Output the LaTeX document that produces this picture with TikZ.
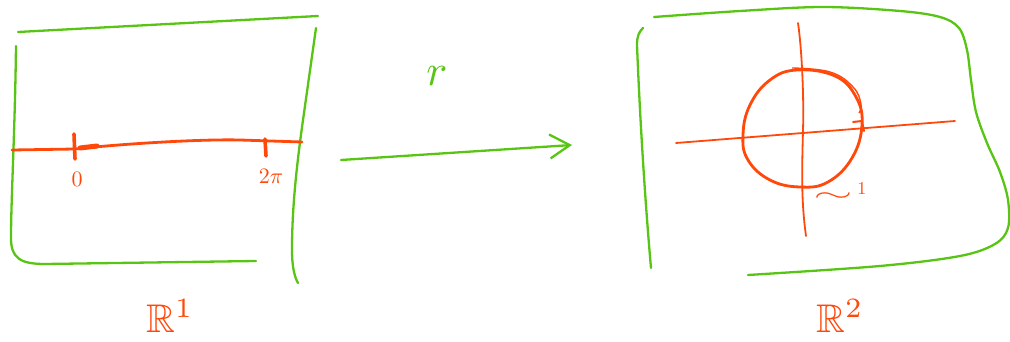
\documentclass[tikz,border=0pt]{standalone}
\usepackage{amssymb}
\usetikzlibrary{arrows.meta}
\definecolor{pgreen}{RGB}{88,196,20}
\definecolor{pred}{RGB}{255,72,10}
\tikzset{
  gline/.style={draw=pgreen, line width=2.3pt, line cap=round, line join=round},
  rline/.style={draw=pred, line width=2.8pt, line cap=round, line join=round},
  axisline/.style={draw=pred, line width=1.8pt, line cap=round},
  tickmark/.style={draw=pred, line width=3.6pt, line cap=round},
  rlabel/.style={text=pred, inner sep=0pt},
  glabel/.style={text=pgreen, inner sep=0pt}
}
\begin{document}
\begin{tikzpicture}[x=1pt,y=-1pt]
\useasboundingbox (0,0) rectangle (1010,342);
% ---------- left frame ----------
\draw[gline] (18,32) -- (318,16);
\draw[gline] (16,46) .. controls (15,130) and (11,200) .. (11,238)
  .. controls (11,258) and (20,264) .. (45,264) -- (256,261);
\draw[gline] (316,28) -- (303,120) .. controls (296,170) and (292,210) .. (292,250)
  .. controls (292,268) and (295,278) .. (298,283);
% ---------- real line ----------
\coordinate (L0) at (12,150);
\coordinate (L1) at (302,142);
\draw[rline] (L0) -- (75,149) .. controls (120,144) and (200,139) .. (240,140) -- (L1);
\draw[pred, line width=5pt, line cap=round] (80,148) -- (97,146);
\draw[tickmark] (74,134) -- (75,159);
\draw[tickmark] (265,139) -- (266,156);
\node[rlabel] (zero) at (77,179) {\scalebox{2.2}{0}};
\node[rlabel] (twopi) at (271,176) {\scalebox{2.2}{$2\pi$}};
\node[rlabel] (R1) at (170,316) {\scalebox{4}{$\mathbb{R}^{1}$}};
% ---------- map ----------
\node[glabel] (r) at (437,76) {\scalebox{4.4}{$r$}};
\coordinate (A0) at (341,160);
\coordinate (A1) at (572,145);
\draw[gline, -{Straight Barb[length=20pt,width=24pt,line width=2.3pt]}] (A0) -- (A1);
% ---------- right frame ----------
\draw[gline] plot[smooth, tension=0.55] coordinates {
  (654,17) (740,11) (823,7) (900,11) (940,17) (959,28) (967,50) (971,80)
  (976,112) (987,143) (1000,172) (1008,200) (1008,228) (995,244) (960,256)
  (880,266) (748,275)};
\draw[gline] (643,28) .. controls (639,32) and (637,36) .. (637,45)
  .. controls (640,120) and (645,200) .. (651,268);
% ---------- axes and circle ----------
\coordinate (H0) at (676,143);
\coordinate (H1) at (955,121);
\coordinate (V0) at (798,23);
\coordinate (V1) at (806,236);
\draw[axisline] (H0) -- (H1);
\draw[axisline] (V0) .. controls (802,50) and (804,100) .. (803,130)
  .. controls (802,170) and (801,200) .. (V1);
\draw[rline] plot[smooth cycle, tension=0.7] coordinates {
  (797,70) (835,76) (856,97) (862,125) (852,158) (828,182) (800,187)
  (770,180) (748,160) (743,135) (750,105) (770,80)};
\draw[draw=pred, line width=1.4pt] plot[smooth, tension=0.7] coordinates {
  (792,68) (830,72) (853,87) (861,104) (859,113)};
\draw[draw=pred, line width=2pt, line cap=round] (853,122) -- (862,121) -- (864,131);
\node[rlabel] (one) at (840,192)
  {\scalebox{5}[2.4]{$\sim$}\hspace{5pt}\raisebox{7pt}{\scalebox{1.8}{1}}};
\node[rlabel] (R2) at (840,316) {\scalebox{4}{$\mathbb{R}^{2}$}};
\end{tikzpicture}
\end{document}
